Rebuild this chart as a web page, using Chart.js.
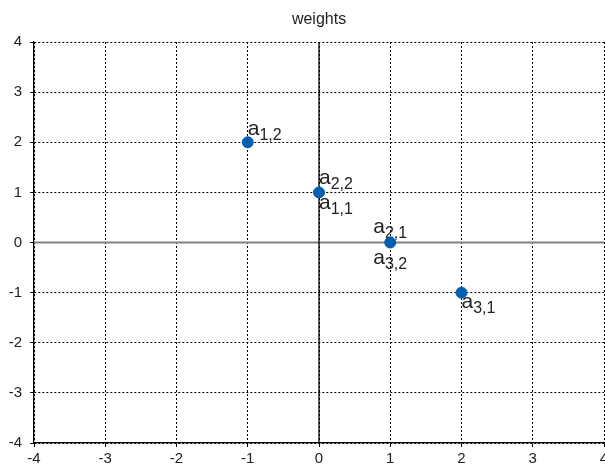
<!DOCTYPE html>
<html>
<head>
<meta charset="utf-8">
<script src="https://cdn.jsdelivr.net/npm/chart.js@4"></script>
<style>
  html, body { margin: 0; padding: 0; background: #ffffff; }
  #wrap { width: 605px; height: 465px; }
</style>
</head>
<body>
<div id="wrap"><canvas id="c" width="605" height="465"></canvas></div>
<script>
// ---- data ----
const chartTitle = 'weights';
const xValues = [-1, 0, 1, 2];
const yValues = [2, 1, 0, -1];
const labelsAbove = ['1,2', '2,2', '2,1', ''];
const labelsBelow = ['', '1,1', '3,2', '3,1'];
const axisMin = -4;
const axisMax = 4;
const tickStep = 1;

// ---- styling / placement (not data) ----
const labelPlacementAbove = [{dx: 0, dy: -7}, {dx: 0, dy: -8}, {dx: -17, dy: -10}, {dx: 0, dy: -7}];
const labelPlacementBelow = [{dx: 0, dy: 17}, {dx: 0, dy: 17}, {dx: -17, dy: 21}, {dx: 0, dy: 15}];

const FONT = "'Liberation Sans', Arial, sans-serif";

const zeroLinesPlugin = {
  id: 'zeroLines',
  beforeDatasetsDraw(chart) {
    const {ctx, chartArea, scales} = chart;
    const x0 = scales.x.getPixelForValue(0);
    const y0 = scales.y.getPixelForValue(0);
    ctx.save();
    ctx.setLineDash([]);
    ctx.strokeStyle = '#808080';
    ctx.lineWidth = 2;
    ctx.beginPath();
    ctx.moveTo(chartArea.left, y0);
    ctx.lineTo(chartArea.right, y0);
    ctx.stroke();
    ctx.strokeStyle = '#000000';
    ctx.lineWidth = 1.3;
    ctx.beginPath();
    ctx.moveTo(x0, chartArea.top);
    ctx.lineTo(x0, chartArea.bottom);
    ctx.stroke();
    ctx.restore();
  }
};

function drawSubLabel(ctx, x, y, sub) {
  ctx.font = '21px ' + FONT;
  ctx.textAlign = 'left';
  ctx.textBaseline = 'alphabetic';
  ctx.fillStyle = '#222222';
  ctx.fillText('a', x, y);
  const w = ctx.measureText('a').width;
  ctx.font = '16px ' + FONT;
  ctx.fillText(sub, x + w, y + 5);
}

const pointLabelsPlugin = {
  id: 'pointLabels',
  beforeDatasetsDraw(chart) {
    const {ctx, scales} = chart;
    ctx.save();
    for (let i = 0; i < xValues.length; i++) {
      const px = scales.x.getPixelForValue(xValues[i]);
      const py = scales.y.getPixelForValue(yValues[i]);
      if (labelsAbove[i]) {
        const p = labelPlacementAbove[i];
        drawSubLabel(ctx, px + p.dx, py + p.dy, labelsAbove[i]);
      }
      if (labelsBelow[i]) {
        const p = labelPlacementBelow[i];
        drawSubLabel(ctx, px + p.dx, py + p.dy, labelsBelow[i]);
      }
    }
    ctx.restore();
  }
};

const gridCommon = {
  color: '#000000',
  lineWidth: 1,
  drawTicks: true,
  tickLength: 4,
  tickColor: '#000000',
  tickBorderDash: [],
  tickWidth: 1
};

new Chart(document.getElementById('c'), {
  type: 'scatter',
  data: {
    datasets: [{
      data: xValues.map((x, i) => ({x: x, y: yValues[i]})),
      backgroundColor: '#0060b0',
      borderColor: '#0060b0',
      pointRadius: 5.5,
      pointHoverRadius: 5.5,
      showLine: false
    }]
  },
  options: {
    responsive: false,
    animation: false,
    devicePixelRatio: 1,
    layout: { autoPadding: false, padding: { left: 0, right: 1, top: 0, bottom: 0 } },
    plugins: {
      legend: { display: false },
      tooltip: { enabled: false },
      title: {
        display: true,
        fullSize: false,
        text: chartTitle,
        color: '#222222',
        font: { family: FONT, size: 16, weight: 'normal' },
        padding: { top: 10, bottom: 12.8 }
      }
    },
    scales: {
      x: {
        type: 'linear',
        min: axisMin,
        max: axisMax,
        afterFit(scale) { scale.height = 22; scale.paddingRight = 0; scale.paddingLeft = 0; },
        ticks: {
          stepSize: tickStep,
          color: '#222222',
          font: { family: FONT, size: 15 },
          padding: 3,
          maxRotation: 0
        },
        grid: gridCommon,
        border: { display: true, color: '#000000', width: 1.3, dash: [2, 2] }
      },
      y: {
        type: 'linear',
        min: axisMin,
        max: axisMax,
        afterFit(scale) { scale.width = 34; scale.paddingTop = 0; scale.paddingBottom = 0; },
        ticks: {
          stepSize: tickStep,
          color: '#222222',
          font: { family: FONT, size: 15 },
          padding: 8
        },
        grid: gridCommon,
        border: { display: true, color: '#000000', width: 1.3, dash: [2, 2] }
      }
    }
  },
  plugins: [zeroLinesPlugin, pointLabelsPlugin]
});
</script>
</body>
</html>
